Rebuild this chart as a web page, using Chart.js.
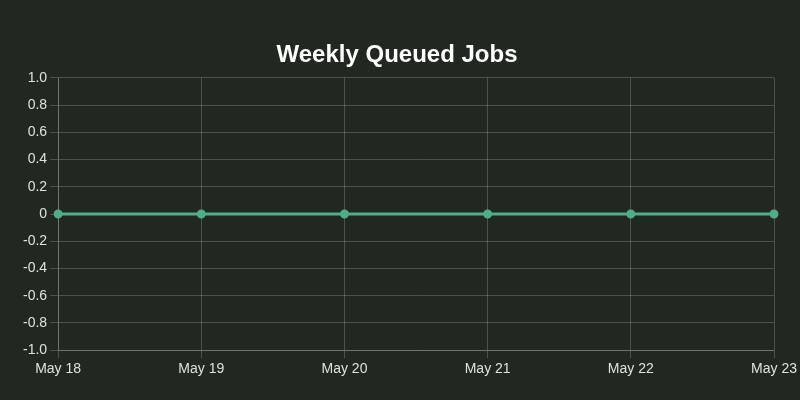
<!DOCTYPE html>
<html>
<head>
<meta charset="utf-8">
<script src="https://cdn.jsdelivr.net/npm/chart.js@4"></script>
<style>
  html, body { margin: 0; padding: 0; background: #202820; }
  #wrap { width: 800px; height: 400px; }
</style>
</head>
<body>
<div id="wrap"><canvas id="QueuedJobsChart"></canvas></div>
<script>
const labels = ["May 18", "May 19", "May 20", "May 21", "May 22", "May 23"];
const queuedJobs = [0, 0, 0, 0, 0, 0];

const gridColor = "rgba(255,255,255,0.2)";

const ctx = document.getElementById("QueuedJobsChart").getContext("2d");
new Chart(ctx, {
  type: "line",
  data: {
    labels: labels,
    datasets: [
      {
        label: "Queued Jobs",
        data: queuedJobs,
        borderColor: "#4fae84",
        backgroundColor: "#4fae84",
        borderWidth: 3,
        pointRadius: 3,
      },
    ],
  },
  options: {
    responsive: true,
    maintainAspectRatio: false,
    animation: false,
    layout: { padding: { left: 20, right: 26, top: 41, bottom: 19 } },
    plugins: {
      legend: { display: false },
      title: {
        display: true,
        text: "Weekly Queued Jobs",
        color: "#ffffff",
        font: { family: "Liberation Sans", size: 24, weight: "bold" },
        padding: { top: 0, bottom: 8 },
      },
    },
    scales: {
      x: {
        grid: { color: gridColor },
        border: { color: gridColor },
        ticks: {
          color: "#e0e0e0",
          font: { family: "Liberation Sans", size: 14 },
          maxRotation: 0,
        },
      },
      y: {
        min: -1,
        max: 1,
        grid: { color: gridColor },
        border: { color: gridColor },
        ticks: {
          color: "#e0e0e0",
          stepSize: 0.2,
          font: { family: "Liberation Sans", size: 14 },
        },
      },
    },
  },
});
</script>
</body>
</html>
